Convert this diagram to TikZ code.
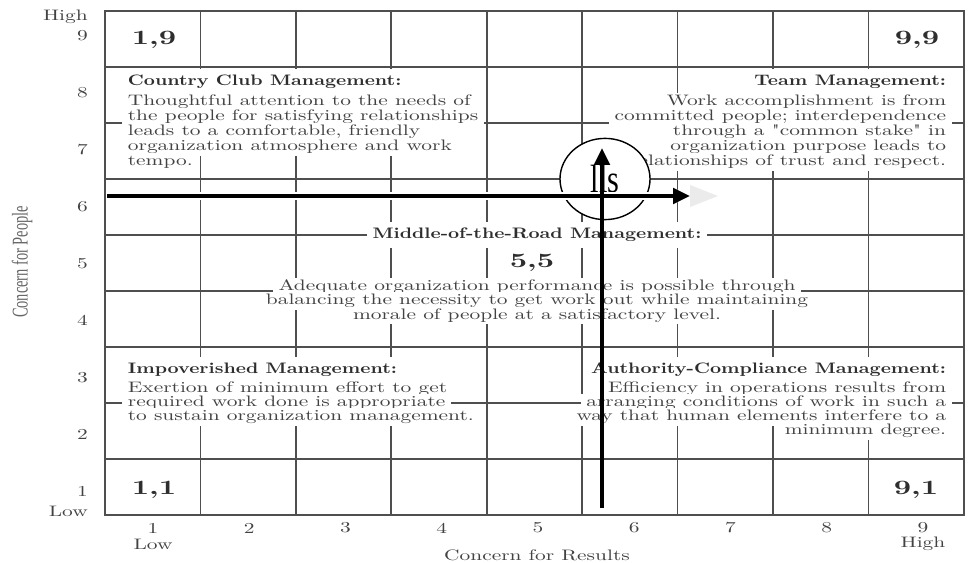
\documentclass[tikz,border=0pt]{standalone}
\usepackage{fontspec}
\usetikzlibrary{arrows.meta, shapes.geometric}
\newfontfamily\bodyfont{lmroman10-regular.otf}[FakeStretch=1.41]
\newfontfamily\headfont{lmroman10-bold.otf}[FakeStretch=1.27]
\newfontfamily\scorefont{lmroman10-bold.otf}[FakeStretch=1.48]
\newfontfamily\sidefont{Liberation Serif}[FakeStretch=0.64]
\newfontfamily\markfont{Liberation Serif}[FakeStretch=0.77]
\definecolor{gridgray}{HTML}{4F4F4F}
\definecolor{inkgray}{HTML}{424242}
\definecolor{headgray}{HTML}{2E2E2E}

\begin{document}
\begin{tikzpicture}[x=0.025cm, y=-0.025cm,
  gridln/.style={draw=gridgray, line width=1.2pt, line cap=rect},
  body/.style={font=\bodyfont\fontsize{10.8pt}{12pt}\selectfont, text=inkgray, fill=white, inner xsep=4pt, inner ysep=1.1pt, text height=7.5pt, text depth=2.4pt},
  head/.style={font=\headfont\fontsize{10.8pt}{12pt}\selectfont, text=headgray, fill=white, inner xsep=4pt, inner ysep=4pt, text height=7.5pt, text depth=2.4pt},
  corner/.style={font=\scorefont\fontsize{14.5pt}{16pt}\selectfont, text=headgray},
  axis/.style={font=\bodyfont\fontsize{10.8pt}{12pt}\selectfont, text=inkgray, inner sep=0pt},
  badge/.style={ellipse, draw=black, fill=white, line width=1pt, minimum width=2.25cm, minimum height=2.03cm, inner sep=0pt, font=\markfont\fontsize{28pt}{30pt}\selectfont},
  arr/.style={-{Triangle[length=12pt, width=11pt]}, line width=2.6pt, draw=black},
  ghost/.style={fill=black!8}
]
\useasboundingbox (0,0) rectangle (970,563);

% 9 x 9 grid
\foreach \j in {0,...,9}
  \draw[gridln] ({105+95.44*\j},11) -- ({105+95.44*\j},515);
\foreach \k in {0,...,9}
  \draw[gridln] (105,{11+56*\k}) -- (964,{11+56*\k});

% corner scores
\node[corner] (s19) at (154,40) {1,9};
\node[corner] (s99) at (917,40) {9,9};
\node[corner] (s11) at (154,490) {1,1};
\node[corner] (s91) at (916,490) {9,1};

% Country Club
\node[head, anchor=west] (cchead) at (122,82) {Country Club Management:};
\foreach \t [count=\i] in {Thoughtful attention to the needs of,
    the people for satisfying relationships,
    {leads to a comfortable, friendly},
    organization atmosphere and work, tempo.}
  \node[body, anchor=west] (cc\i) at (122,{87+15*\i}) {\t};

% Team
\node[head, anchor=east] (tmhead) at (952,82) {Team Management:};
\foreach \t [count=\i] in {Work accomplishment is from,
    committed people; interdependence,
    through a "common stake" in,
    organization purpose leads to,
    relationships of trust and respect.}
  \node[body, anchor=east] (tm\i) at (952,{87+15*\i}) {\t};

% Middle of the road
\node[head] (mrhead) at (537,235) {Middle-of-the-Road Management:};
\node[corner] (s55) at (532,263) {5,5};
\foreach \t [count=\i] in {Adequate organization performance is possible through,
    balancing the necessity to get work out while maintaining,
    morale of people at a satisfactory level.}
  \node[body] (mr\i) at (537,{272+14.5*\i}) {\t};

% Impoverished
\node[head, anchor=west] (imhead) at (122,370) {Impoverished Management:};
\foreach \t [count=\i] in {Exertion of minimum effort to get,
    required work done is appropriate,
    to sustain organization management.}
  \node[body, anchor=west] (im\i) at (122,{375+14*\i}) {\t};

% Authority-Compliance
\node[head, anchor=east] (achead) at (952,370) {Authority-Compliance Management:};
\foreach \t [count=\i] in {Efficiency in operations results from,
    arranging conditions of work in such a,
    way that human elements interfere to a,
    minimum degree.}
  \node[body, anchor=east] (ac\i) at (952,{375+14*\i}) {\t};

% axes
\node[axis, anchor=east] (phigh) at (88,17) {High};
\node[axis, anchor=east] (plow) at (88,511) {Low};
\foreach \n in {1,...,9}
  \node[axis, anchor=east] (py\n) at (88,{36+56.875*(9-\n)}) {\n};
\foreach \n in {1,...,9}
  \node[axis] (rx\n) at ({153+96.25*(\n-1)},528) {\n};
\node[axis] (rlow) at (153,544) {Low};
\node[axis] (rhigh) at (923,544) {High};
\node[axis] (rtitle) at (537,555) {Concern for Results};
\node[axis, font=\sidefont\fontsize{16pt}{18pt}\selectfont, text=black!60, rotate=90] (ptitle) at (22,262) {Concern for People};

% overlay
\node[badge] (lls) at (605,179) {lls};
\coordinate (hfrom) at (107,196);
\coordinate (hto) at (690,196);
\coordinate (vfrom) at (602,508);
\coordinate (vto) at (602,148);
\fill[ghost] (hto) ++(0,-11) -- ++(28,11) -- ++(-28,11) -- cycle;
\draw[arr, preaction={draw=white, line width=5.5pt}] (hfrom) -- (hto);
\draw[arr] (vfrom) -- (vto);
\end{tikzpicture}
\end{document}
